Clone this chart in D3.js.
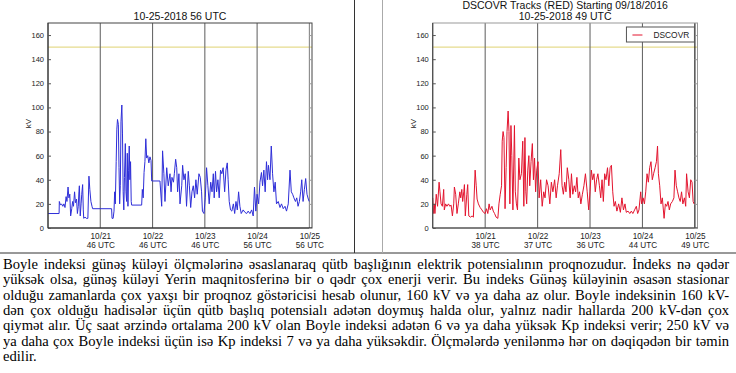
<!DOCTYPE html>
<html>
<head>
<meta charset="utf-8">
<script src="https://cdn.jsdelivr.net/npm/d3@7"></script>
<style>
  body { margin: 0; background: #fff; }
  svg { display: block; }
</style>
</head>
<body>
<div id="chart"></div>
<script>
// Boyle index, two panels (ACE blue / DSCOVR red) + caption text below

// hours since 10/20 00 UTC, kV
var blueTrack = [[0,12],[5.1,12],[5.2,22],[5.7,19],[6.2,20],[6.8,18],[7.3,20],[7.8,17],[8.3,26],[8.7,22],[9.2,34],[9.6,25],[10.0,28],[10.4,10],[10.9,16],[11.3,22],[11.7,18],[12.2,30],[12.6,21],[13.1,24],[13.5,12],[13.9,18],[14.2,30],[14.4,35],[14.8,10],[15.2,20],[15.5,28],[15.9,36],[16.2,15],[16.4,8],[17.0,9],[17.6,8],[18.3,8],[18.8,43],[19.2,32],[19.7,22],[20.2,18],[20.5,16],
  [29.2,16],[29.4,8],[29.9,8],[30.3,14],[30.6,30],[30.9,20],[31.3,55],[31.6,82],[31.9,90],[32.3,86],[32.6,50],[32.9,20],[33.2,35],[33.5,88],[33.9,102],[34.2,78],[34.5,30],[34.8,15],[35.1,42],[35.5,70],[35.8,30],[36.1,22],[36.4,62],[36.7,18],[37.0,48],[37.3,68],[37.6,40],[37.9,55],[38.2,22],[38.4,19],
  [43.0,19],[43.3,32],[43.7,25],[44.1,46],[44.5,55],[44.9,74],[45.3,58],[45.8,60],[46.3,54],[46.8,59],[47.3,56],[47.6,39],
  [51.4,39],[52.2,18],[52.6,64],[53.2,45],[53.7,22],[54.5,50],[55.2,35],[56.0,45],[56.5,30],[56.9,42],[57.6,38],[58.0,45],[58.6,57],[59.1,50],[59.5,30],[60.1,45],[60.6,20],[61.4,35],[61.8,52],[62.4,40],[63.0,45],[63.6,18],[64.4,47],[64.9,35],[65.5,17],[66.1,30],[66.7,35],[67.3,25],[67.9,40],[68.5,28],[69.3,45],[69.9,42],[70.5,30],[70.9,14],[71.6,12],[72.2,25],[72.8,50],[73.4,35],[74.0,20],[74.7,38],[75.3,30],[75.9,45],[76.3,25],[76.9,47],[77.4,30],[78.0,40],[78.6,25],[79.2,48],[79.8,45],[80.4,50],[81.1,30],[81.7,48],[82.3,54],[82.7,40],[83.2,22],[83.8,15],[84.4,14],[85.1,20],[85.7,12],[86.3,22],[86.9,15],[87.5,30],[88.1,18],[88.7,12],[89.6,15],[90.4,13],[91.2,12],[91.9,14],[92.7,12],[93.5,15],[94.2,10],[94.8,34],[95.4,14],[96.0,28],[96.7,20],[97.3,38],[98.0,46],[98.5,35],[99.1,48],[99.7,30],[100.3,55],[100.8,40],[101.2,52],[101.9,40],[102.5,68],[103.1,45],[103.7,30],[104.3,38],[104.9,20],[105.7,22],[106.5,17],[107.2,20],[108.0,16],[108.8,18],[109.5,14],[110.3,20],[111.1,48],[111.7,30],[112.3,28],[112.9,25],[113.6,22],[114.2,25],[114.8,18],[115.4,22],[116.0,30],[116.5,40],[117.1,22],[117.7,32],[118.3,41],[118.9,28],[119.5,24],[119.9,22]];

var redTrack = [[0,25],[0.4,12],[0.7,20],[1.0,12],[1.6,28],[2.2,18],[2.9,38],[3.3,30],[3.8,20],[4.4,18],[5.0,32],[5.3,15],[5.9,20],[6.5,18],[7.2,20],[7.8,18],[8.4,19],[9.0,10],[9.6,20],[9.9,34],[10.5,28],[11.1,12],[11.7,20],[12.4,30],[12.8,25],[13.3,32],[13.7,22],[14.2,30],[14.5,36],[14.9,10],[15.6,28],[16.0,36],[16.5,10],[17.3,9],[18.0,10],[18.6,9],[19.4,48],[19.9,35],[20.3,24],[20.9,20],[21.7,17],[22.5,15],[23.2,13],[24.0,12],[24.6,16],[25.2,12],[25.8,20],[26.3,15],[27.1,18],[27.7,14],[28.3,12],[29.0,9],[29.8,8],[30.3,20],[30.9,28],[31.5,35],
  [31.8,72],[32.2,80],[32.6,75],[33.1,16],[33.6,50],[34.0,80],[34.5,97],[34.9,80],[35.3,20],[35.8,85],[36.2,60],[36.7,15],[37.4,85],[37.8,30],[38.3,20],[38.8,15],[39.4,58],[39.9,40],[40.6,45],[41.2,72],[41.7,18],[42.2,75],[42.6,30],[43.0,20],[43.5,48],[44.0,60],[44.4,35],[45.0,55],[45.6,70],[46.1,40],[46.6,58],[47.1,30],[47.6,48],[48.2,55],[48.7,25],[49.4,40],[50.1,18],[50.8,30],[51.4,25],[52.1,40],[52.8,35],[53.6,20],[54.3,38],[55.0,30],[55.8,40],[56.5,25],[57.1,35],[57.9,45],[58.6,65],[59.2,35],[59.8,28],[60.4,38],[61.0,30],[61.6,50],[62.3,40],[62.9,25],[63.5,45],[64.1,28],[64.8,35],[65.4,30],[66.0,42],[66.6,25],[67.2,30],[67.8,20],[68.5,28],[69.2,35],[69.9,45],[70.7,30],[71.4,15],[72.0,30],[72.6,48],[73.2,40],[73.8,45],[74.4,30],[75.0,40],[75.6,45],[76.3,35],[76.9,25],[77.5,40],[78.1,22],[78.7,45],[79.3,40],[80.0,50],[80.6,35],[81.2,50],[81.8,52],[82.4,30],[83.0,18],[83.6,22],[84.3,14],[85.1,20],[85.9,13],[86.6,25],[87.3,15],[88.0,20],[88.6,13],[89.4,14],[90.2,12],[90.9,14],[91.6,12],[92.4,15],[93.2,18],[93.8,12],[94.4,15],[95.2,30],[95.6,20],[96.3,25],[96.9,20],[97.5,30],[98.1,45],[98.7,38],[99.3,50],[99.9,55],[100.5,40],[101.1,45],[101.8,50],[102.4,55],[102.9,68],[103.3,45],[103.9,35],[104.5,20],[105.1,25],[105.9,8],[106.5,20],[107.1,18],[107.7,22],[108.3,15],[108.9,20],[109.7,22],[110.4,25],[110.9,48],[111.5,35],[112.1,30],[112.7,25],[113.3,22],[113.9,30],[114.5,20],[115.2,25],[115.8,18],[116.2,45],[116.9,30],[117.5,25],[118.1,40],[118.7,38],[119.2,22],[119.6,20]];

var dayTicks = [24, 48, 72, 96, 120];
var dayLabels = ['10/21', '10/22', '10/23', '10/24', '10/25'];
var blueUtc = ['46 UTC', '46 UTC', '46 UTC', '56 UTC', '56 UTC'];
var redUtc = ['38 UTC', '37 UTC', '36 UTC', '44 UTC', '49 UTC'];
var kvTicks = [0, 20, 40, 60, 80, 100, 120, 140, 160];
var kvMax = 170;
var hoursShown = 121.2;
var threshold = 150;
var blueTitle = ['10-25-2018 56 UTC'];
var redTitle = ['DSCOVR Tracks (RED) Starting 09/18/2016', '10-25-2018 49 UTC'];
var legendName = 'DSCOVR';

var captionLines = [
  'Boyle indeksi günəş küləyi ölçmələrinə əsaslanaraq qütb başlığının elektrik potensialının proqnozudur. İndeks nə qədər',
  'yüksək olsa, günəş küləyi Yerin maqnitosferinə bir o qədr çox enerji verir. Bu indeks Günəş küləyinin əsasən stasionar',
  'olduğu zamanlarda çox yaxşı bir proqnoz göstəricisi hesab olunur, 160 kV və ya daha az olur. Boyle indeksinin 160 kV-',
  'dən çox olduğu hadisələr üçün qütb başlıq potensialı adətən doymuş halda olur, yalnız nadir hallarda 200 kV-dən çox',
  'qiymət alır. Üç saat ərzində ortalama 200 kV olan Boyle indeksi adətən 6 və ya daha yüksək Kp indeksi verir; 250 kV və',
  'ya daha çox Boyle indeksi üçün isə Kp indeksi 7 və ya daha yüksəkdir. Ölçmələrdə yenilənmə hər on dəqiqədən bir təmin',
  'edilir.'
];

var W = 736, H = 373;
var SANS = '"Liberation Sans", Arial, Helvetica, sans-serif';
var SERIF = '"Liberation Serif", "Times New Roman", serif';

var svg = d3.select('#chart').append('svg')
  .attr('width', W).attr('height', H);
svg.append('rect').attr('width', W).attr('height', H).attr('fill', '#fff');

makePanel({x0: 48, x1: 312, track: blueTrack, color: '#2e2ed8', utc: blueUtc,
  title: blueTitle, frame: '#444', lastDay: '#888', legend: false});
makePanel({x0: 432.75, x1: 697.5, track: redTrack, color: '#e3142e', utc: redUtc,
  title: redTitle, frame: '#999', lastDay: '#111', legend: true});

makeTableLines();
makeCaption();

function makePanel(p) {
  var x = d3.scaleLinear().domain([0, hoursShown]).range([p.x0, p.x1]);
  var y = d3.scaleLinear().domain([0, kvMax]).range([228, 23]);
  var g = svg.append('g');
  var mid = (p.x0 + p.x1) / 2;

  //title(s), last line sits just above the frame
  p.title.forEach(function(t, i) {
    g.append('text')
      .attr('x', mid)
      .attr('y', 19.5 - (p.title.length - 1 - i) * 11)
      .attr('text-anchor', 'middle')
      .attr('font-family', SANS).attr('font-size', 10.5)
      .attr('fill', '#111')
      .text(t);
  });

  //yellow threshold
  g.append('line')
    .attr('x1', x(0)).attr('x2', x(hoursShown))
    .attr('y1', y(threshold)).attr('y2', y(threshold))
    .attr('stroke', '#e6db8e').attr('stroke-width', 1.2);

  //day separators
  g.selectAll('.day').data(dayTicks).enter().append('line')
    .attr('x1', d => x(d)).attr('x2', d => x(d))
    .attr('y1', y(kvMax)).attr('y2', y(0))
    .attr('stroke', (d, i) => i == dayTicks.length - 1 ? p.lastDay : '#6a6a6a')
    .attr('stroke-width', 1.1);

  var line = d3.line().x(d => x(d[0])).y(d => y(d[1]));
  g.append('path').datum(p.track)
    .attr('d', line)
    .attr('fill', 'none')
    .attr('stroke', p.color)
    .attr('stroke-width', 1)
    .attr('stroke-linejoin', 'round');

  //frame
  g.append('rect')
    .attr('x', x(0)).attr('y', y(kvMax))
    .attr('width', x(hoursShown) - x(0)).attr('height', y(0) - y(kvMax))
    .attr('fill', 'none').attr('stroke', p.frame).attr('stroke-width', 1);
  g.append('line')
    .attr('x1', x(0)).attr('x2', x(0)).attr('y1', y(kvMax)).attr('y2', y(0))
    .attr('stroke', '#333');
  g.append('line')
    .attr('x1', x(0)).attr('x2', x(hoursShown)).attr('y1', y(0)).attr('y2', y(0))
    .attr('stroke', '#333');

  //y axis
  var gy = g.append('g')
    .attr('transform', 'translate(' + x(0) + ',0)')
    .call(d3.axisLeft(y).tickValues(kvTicks).tickSizeInner(-3).tickSizeOuter(0).tickPadding(4));
  gy.select('.domain').remove();
  gy.selectAll('.tick line').attr('stroke', '#555');
  gy.selectAll('.tick text')
    .attr('font-family', SANS).attr('font-size', 7.5).attr('fill', '#222');

  var gyr = g.append('g')
    .attr('transform', 'translate(' + x(hoursShown) + ',0)')
    .call(d3.axisRight(y).tickValues(kvTicks).tickSizeInner(-3).tickSizeOuter(0).tickFormat(''));
  gyr.select('.domain').remove();
  gyr.selectAll('.tick line').attr('stroke', '#999');

  g.append('text')
    .attr('transform', 'translate(' + (x(0) - 17) + ',' + ((y(0) + y(kvMax)) / 2 - 2) + ') rotate(-90)')
    .attr('text-anchor', 'middle')
    .attr('font-family', SANS).attr('font-size', 8).attr('fill', '#222')
    .text('kV');

  //x axis: date + UTC minute on two rows
  var gx = g.append('g')
    .attr('transform', 'translate(0,' + y(0) + ')')
    .call(d3.axisBottom(x).tickValues(dayTicks).tickSize(0).tickFormat(''));
  gx.select('.domain').remove();
  gx.selectAll('.tick text').each(function(d, i) {
    var t = d3.select(this).attr('y', null).attr('dy', null)
      .attr('font-family', SANS).attr('font-size', 8.2).attr('fill', '#222');
    t.append('tspan').attr('x', 0).attr('y', 11).text(dayLabels[i]);
    t.append('tspan').attr('x', 0).attr('y', 20.3).text(p.utc[i]);
  });

  if (p.legend) {
    var lx1 = x(119.8), lx0 = lx1 - 68, ly0 = y(kvMax) + 4;
    g.append('rect')
      .attr('x', lx0).attr('y', ly0).attr('width', 68).attr('height', 15)
      .attr('fill', '#fff').attr('stroke', '#555');
    g.append('line')
      .attr('x1', lx0 + 6).attr('x2', lx0 + 16)
      .attr('y1', ly0 + 8).attr('y2', ly0 + 8)
      .attr('stroke', p.color);
    g.append('text')
      .attr('x', lx0 + 27).attr('y', ly0 + 11)
      .attr('font-family', SANS).attr('font-size', 8.4).attr('fill', '#222')
      .text(legendName);
  }
}

function makeTableLines() {
  svg.append('line').attr('x1', 0).attr('x2', W).attr('y1', 253).attr('y2', 253)
    .attr('stroke', '#333').attr('stroke-width', 1);
  svg.append('line').attr('x1', 354.5).attr('x2', 354.5).attr('y1', 0).attr('y2', 253)
    .attr('stroke', '#333').attr('stroke-width', 1);
  svg.append('line').attr('x1', 382.5).attr('x2', 382.5).attr('y1', 0).attr('y2', 253)
    .attr('stroke', '#aaa').attr('stroke-width', 1);
}

function makeCaption() {
  var gc = svg.append('g');
  var fullWidth = 726;
  captionLines.forEach(function(s, i) {
    var t = gc.append('text')
      .attr('x', 3).attr('y', 269 + i * 15.3)
      .attr('font-family', SERIF).attr('font-size', 14.6).attr('fill', '#000')
      .text(s);
    //justify like a word processor: stretch the spaces, not the letters
    if (i < captionLines.length - 1) {
      var natural = t.node().getComputedTextLength();
      var gaps = s.split(' ').length - 1;
      var extra = (fullWidth - natural) / gaps;
      if (extra >= -1) {
        t.attr('word-spacing', extra);
      } else {
        t.attr('textLength', fullWidth).attr('lengthAdjust', 'spacingAndGlyphs');
      }
    }
  });
}
</script>
</body>
</html>
